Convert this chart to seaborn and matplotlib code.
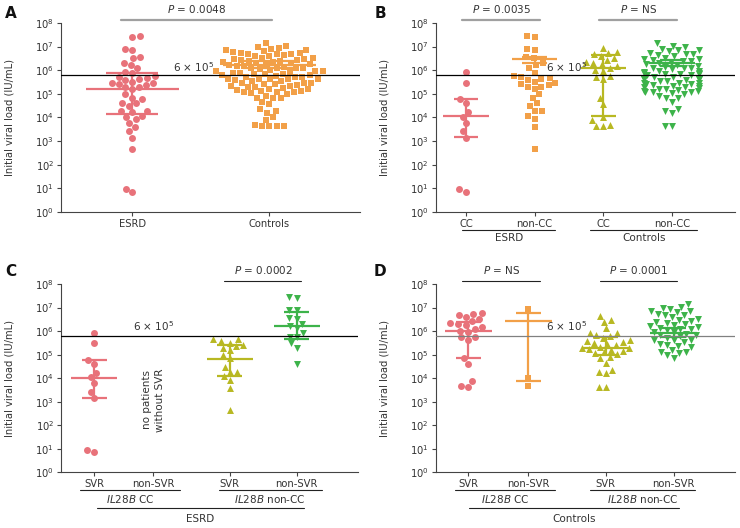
import warnings
import pandas as pd
import matplotlib
matplotlib.use("Agg")
import matplotlib.pyplot as plt
from matplotlib.ticker import NullLocator
import seaborn as sns

warnings.filterwarnings("ignore")

# initial viral load (IU/mL) per subgroup, as in panels C and D;
# panels A and B pool the same patients
esrd_cc_svr = [8.5e5, 3.0e5, 6.0e4, 4.0e4, 1.7e4, 1.1e4, 6.0e3, 2.6e3, 1.4e3, 9, 7]
esrd_cc_nonsvr = []
esrd_noncc_svr = [4.5e5, 4.4e5, 3.8e5, 3.2e5, 2.5e5, 2.3e5, 2.0e5, 1.6e5, 9.5e4,
                  7.0e4, 3.1e4, 1.9e4, 1.8e4, 1.2e4, 8.3e3, 4.0e3, 450]
esrd_noncc_nonsvr = [2.7e7, 2.5e7, 8.0e6, 7.5e6, 3.5e6, 3.2e6, 2.0e6, 1.7e6, 1.3e6,
                     8.0e5, 5.8e5, 5.4e5, 3.0e5, 1.9e5, 4.0e4]
ctrl_cc_svr = [6.0e6, 5.5e6, 4.8e6, 4.0e6, 3.2e6, 2.8e6, 2.2e6, 2.0e6, 1.8e6, 1.5e6,
               1.25e6, 1.05e6, 9.3e5, 5.8e5, 5.4e5, 4.2e5, 7.0e4, 3.9e4, 7.8e3,
               4.4e3, 4.5e3]
ctrl_cc_nonsvr = [9.0e6, 1.05e4, 4.7e3]
ctrl_noncc_svr = [4.4e6, 3.0e6, 2.5e6, 1.3e6, 8.5e5, 8.0e5, 6.8e5, 6.0e5, 5.0e5,
                  4.2e5, 3.9e5, 3.5e5, 3.0e5, 2.8e5, 2.5e5, 2.2e5, 2.0e5, 1.9e5,
                  1.7e5, 1.6e5, 1.4e5, 1.25e5, 1.15e5, 1.05e5, 8.1e4, 6.9e4, 4.6e4,
                  2.2e4, 1.9e4, 1.6e4, 4.4e3, 4.3e3]
ctrl_noncc_nonsvr = [1.4e7, 1.1e7, 9.3e6, 8.3e6, 7.1e6, 7.0e6, 6.3e6, 5.2e6, 4.8e6,
                     4.7e6, 4.0e6, 3.2e6, 3.0e6, 2.8e6, 2.5e6, 2.2e6, 2.0e6, 1.8e6,
                     1.7e6, 1.55e6, 1.4e6, 1.25e6, 1.2e6, 1.1e6, 9.3e5, 9.0e5, 7.6e5,
                     6.8e5, 6.7e5, 6.0e5, 5.2e5, 4.2e5, 4.1e5, 4.2e5, 3.5e5, 2.8e5,
                     2.6e5, 2.3e5, 2.1e5, 1.6e5, 1.3e5, 1.3e5, 1.15e5, 9.5e4, 6.9e4]

esrd_cc = esrd_cc_svr + esrd_cc_nonsvr
esrd_noncc = esrd_noncc_svr + esrd_noncc_nonsvr
ctrl_cc = ctrl_cc_svr + ctrl_cc_nonsvr
ctrl_noncc = ctrl_noncc_svr + ctrl_noncc_nonsvr

# category labels
a_labels = ["ESRD", "Controls"]
b_labels = ["CC", "non-CC", "CC", "non-CC"]
cd_labels = ["SVR", "non-SVR", "SVR", "non-SVR"]

# summary bars: centre line, lower cap, upper cap
a_centre = [1.65e5, 1.7e6]
a_low = [1.4e4, 1.2e6]
a_high = [8.0e5, 2.4e6]
b_centre = [1.15e4, 2.9e6, 1.3e6, 2.0e6]
b_low = [1.45e3, 1.95e6, 1.15e4, 1.5e6]
b_high = [6.0e4, 3.7e6, 4.2e6, 2.6e6]
c_centre = [1.05e4, None, 6.8e4, 1.65e6]
c_low = [1.4e3, None, 1.2e4, 4.5e5]
c_high = [5.9e4, None, 2.6e5, 6.6e6]
d_centre = [1.0e6, 2.7e6, 2.0e5, 8.5e5]
d_low = [7.0e4, 7.7e3, 1.0e5, 5.5e5]
d_high = [2.5e6, 5.6e6, 5.5e5, 1.3e6]

cutoff = 6e5

RED, ORANGE, YELLOW, GREEN = "#E8727A", "#F2A048", "#B8B822", "#3DB34A"
TXT = "#333333"

sns.set_theme(style="ticks")
plt.rcParams["font.family"] = ["DejaVu Sans"]


def draw_panel(ax, groups, xpos, labels, colors, markers, centre, low, high,
               xlim, mw, cw, ref_color="black"):
    ax.set_yscale("log")
    for vals, x, col, m in zip(groups, xpos, colors, markers):
        if len(vals) == 0:
            continue
        df = pd.DataFrame({"pos": [x] * len(vals), "load": vals})
        sns.swarmplot(data=df, x="pos", y="load", native_scale=True,
                      log_scale=(False, True), color=col, marker=m, size=5,
                      linewidth=0, ax=ax, zorder=2)
    for x, c, lo, hi, col in zip(xpos, centre, low, high, colors):
        if c is None:
            continue
        ax.hlines(c, x - mw, x + mw, color=col, lw=1.6, zorder=3)
        ax.vlines(x, lo, hi, color=col, lw=1.6, zorder=3)
        ax.hlines([lo, hi], x - cw, x + cw, color=col, lw=1.6, zorder=3)
    ax.axhline(cutoff, color=ref_color, lw=0.9, zorder=4)

    ax.set_ylim(1, 1e8)
    ax.set_yticks([10.0 ** k for k in range(9)])
    ax.yaxis.set_minor_locator(NullLocator())
    ax.set_xlim(*xlim)
    ax.set_xticks(xpos)
    ax.set_xticklabels(labels)
    ax.set_xlabel("")
    ax.set_ylabel("Initial viral load (IU/mL)", fontsize=7.2, color=TXT)
    ax.yaxis.set_label_coords(-0.155, 0.5)
    ax.tick_params(axis="both", labelsize=7.2, length=3, width=0.8,
                   colors="#444444", labelcolor=TXT, pad=2)
    for s in ["left", "bottom"]:
        ax.spines[s].set_color("#444444")
        ax.spines[s].set_linewidth(0.8)
    sns.despine(ax=ax)


def p_bar(ax, x0, x1, text, color, lw):
    tr = ax.get_xaxis_transform()
    ax.plot([x0, x1], [1.015, 1.015], color=color, lw=lw, transform=tr, clip_on=False)
    ax.text((x0 + x1) / 2, 1.075, "$P$ = " + text, transform=tr, ha="center",
            va="center", fontsize=7.5, color=TXT)


def bracket(ax, x0, x1, y, text, ty):
    tr = ax.get_xaxis_transform()
    ax.plot([x0, x1], [y, y], color="#222222", lw=0.8, transform=tr, clip_on=False)
    ax.text((x0 + x1) / 2, ty, text, transform=tr, ha="center", va="center",
            fontsize=7.5, color=TXT)


fig = plt.figure(figsize=(7.4, 5.28), dpi=100)
axA = fig.add_axes([0.0824, 0.5985, 0.404, 0.358])
axB = fig.add_axes([0.5888, 0.5985, 0.4045, 0.358])
axC = fig.add_axes([0.0824, 0.1055, 0.401, 0.3566])
axD = fig.add_axes([0.5888, 0.1055, 0.4045, 0.3566])

cd_pos = [0, 1, 2.29, 3.42]

# A
draw_panel(axA, [esrd_cc + esrd_noncc, ctrl_cc + ctrl_noncc], [0, 1], a_labels,
           [RED, ORANGE], ["o", "s"], a_centre, a_low, a_high,
           (-0.52, 1.66), 0.34, 0.19)
p_bar(axA, -0.08, 1.02, "0.0048", "#A0A0A0", 1.6)
axA.text(0.45, 1.4e6, "6 × 10$^{5}$", ha="center", va="center", fontsize=7.5, color=TXT)

# B
draw_panel(axB, [esrd_cc, esrd_noncc, ctrl_cc, ctrl_noncc], [0, 1, 2, 3], b_labels,
           [RED, ORANGE, YELLOW, GREEN], ["o", "s", "^", "v"],
           b_centre, b_low, b_high, (-0.44, 3.92), 0.33, 0.18)
p_bar(axB, -0.05, 1.08, "0.0035", "#A0A0A0", 1.6)
p_bar(axB, 1.94, 3.08, "NS", "#A0A0A0", 1.6)
axB.text(1.47, 1.4e6, "6 × 10$^{5}$", ha="center", va="center", fontsize=7.5, color=TXT)
bracket(axB, -0.05, 1.30, -0.095, "ESRD", -0.14)
bracket(axB, 1.81, 3.37, -0.095, "Controls", -0.14)

# C
draw_panel(axC, [esrd_cc_svr, esrd_cc_nonsvr, esrd_noncc_svr, esrd_noncc_nonsvr],
           cd_pos, cd_labels, [RED, ORANGE, YELLOW, GREEN], ["o", "s", "^", "v"],
           c_centre, c_low, c_high, (-0.56, 4.45), 0.39, 0.21)
p_bar(axC, 2.2, 3.5, "0.0002", "#222222", 0.8)
axC.text(1.01, 1.65e6, "6 × 10$^{5}$", ha="center", va="center", fontsize=7.5, color=TXT)
axC.text(1, 1.2e3, "no patients\nwithout SVR", rotation=90, ha="center", va="center",
         fontsize=7.5, color=TXT, linespacing=1.3)
bracket(axC, -0.24, 1.45, -0.094, r"$\it{IL28B}$ CC", -0.143)
bracket(axC, 2.10, 3.84, -0.094, r"$\it{IL28B}$ non-CC", -0.143)
bracket(axC, 0.05, 3.54, -0.191, "ESRD", -0.25)

# D
draw_panel(axD, [ctrl_cc_svr, ctrl_cc_nonsvr, ctrl_noncc_svr, ctrl_noncc_nonsvr],
           cd_pos, cd_labels, [RED, ORANGE, YELLOW, GREEN], ["o", "s", "^", "v"],
           d_centre, d_low, d_high, (-0.54, 4.44), 0.39, 0.21, ref_color="#808080")
p_bar(axD, -0.1, 1.2, "NS", "#222222", 0.8)
p_bar(axD, 2.2, 3.47, "0.0001", "#222222", 0.8)
axD.text(1.64, 1.6e6, "6 × 10$^{5}$", ha="center", va="center", fontsize=7.5, color=TXT)
bracket(axD, -0.22, 1.45, -0.094, r"$\it{IL28B}$ CC", -0.143)
bracket(axD, 2.03, 3.78, -0.094, r"$\it{IL28B}$ non-CC", -0.143)
bracket(axD, 0.02, 3.50, -0.191, "Controls", -0.25)

for letter, x, y in [("A", 11, 14), ("B", 380, 14), ("C", 11, 271), ("D", 380, 271)]:
    fig.text(x / 740, 1 - y / 528, letter, ha="center", va="center",
             fontsize=11, fontweight="bold", color="#111111")

fig.savefig("out.png", dpi=100)
